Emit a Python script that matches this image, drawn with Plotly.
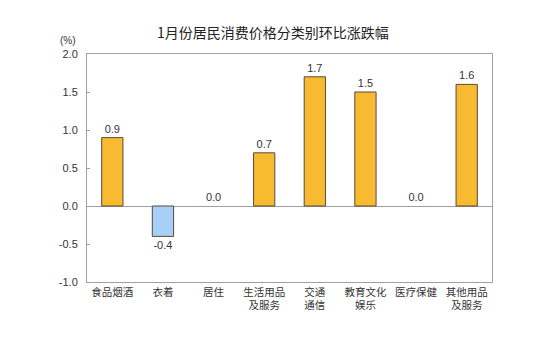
import plotly.graph_objects as go

categories = ["食品烟酒", "衣着", "居住", "生活用品<br>及服务", "交通<br>通信",
              "教育文化<br>娱乐", "医疗保健", "其他用品<br>及服务"]
values = [0.9, -0.4, 0.0, 0.7, 1.7, 1.5, 0.0, 1.6]
y_ticks = [-1.0, -0.5, 0.0, 0.5, 1.0, 1.5, 2.0]

ORANGE = "#F8BA30"
BLUE = "#A6D0FA"
colors = [BLUE if v < 0 else ORANGE for v in values]
# zero-height bars get no outline so only their label shows
edge_widths = [0 if v == 0 else 1 for v in values]

font_cn = "Noto Sans CJK SC, Noto Sans, sans-serif"
font_num = "Arial, Liberation Sans, sans-serif"

fig = go.Figure(go.Bar(
    x=categories,
    y=values,
    marker=dict(color=colors, line=dict(color="#5A4A35", width=edge_widths)),
    width=0.42,
    text=[f"{v:.1f}" for v in values],
    textposition="outside",
    cliponaxis=False,
    textfont=dict(size=11, color="#333333", family=font_num),
))

fig.update_layout(
    width=534, height=344,
    margin=dict(l=87, r=42, t=54, b=62),
    paper_bgcolor="white",
    plot_bgcolor="white",
    showlegend=False,
    title=dict(text="1月份居民消费价格分类别环比涨跌幅", x=0.511, xanchor="center",
               y=1 - 33 / 344, yanchor="middle",
               font=dict(size=14, color="#222222", family=font_cn)),
    xaxis=dict(
        showline=True, linecolor="#A0A0A0", linewidth=1, mirror=True,
        ticks="", tickfont=dict(size=10.5, color="#333333", family=font_cn),
        showgrid=False,
    ),
    yaxis=dict(
        range=[-1.0, 2.0], tickvals=y_ticks, ticktext=[f"{t:.1f}" for t in y_ticks],
        showline=True, linecolor="#A0A0A0", linewidth=1, mirror=True,
        ticks="inside", ticklen=3, tickcolor="#A0A0A0",
        showgrid=False, zeroline=True, zerolinecolor="#A0A0A0", zerolinewidth=1,
        tickfont=dict(size=11, color="#333333", family=font_num),
        ticklabelstandoff=6,
    ),
    annotations=[dict(text="(%)",
                      x=(68 - 87) / (534 - 87 - 42), y=(344 - 41 - 62) / (344 - 54 - 62),
                      xref="paper", yref="paper", xanchor="center", yanchor="middle",
                      showarrow=False,
                      font=dict(size=10, color="#333333", family=font_num))],
)

fig.write_html("out.html")
